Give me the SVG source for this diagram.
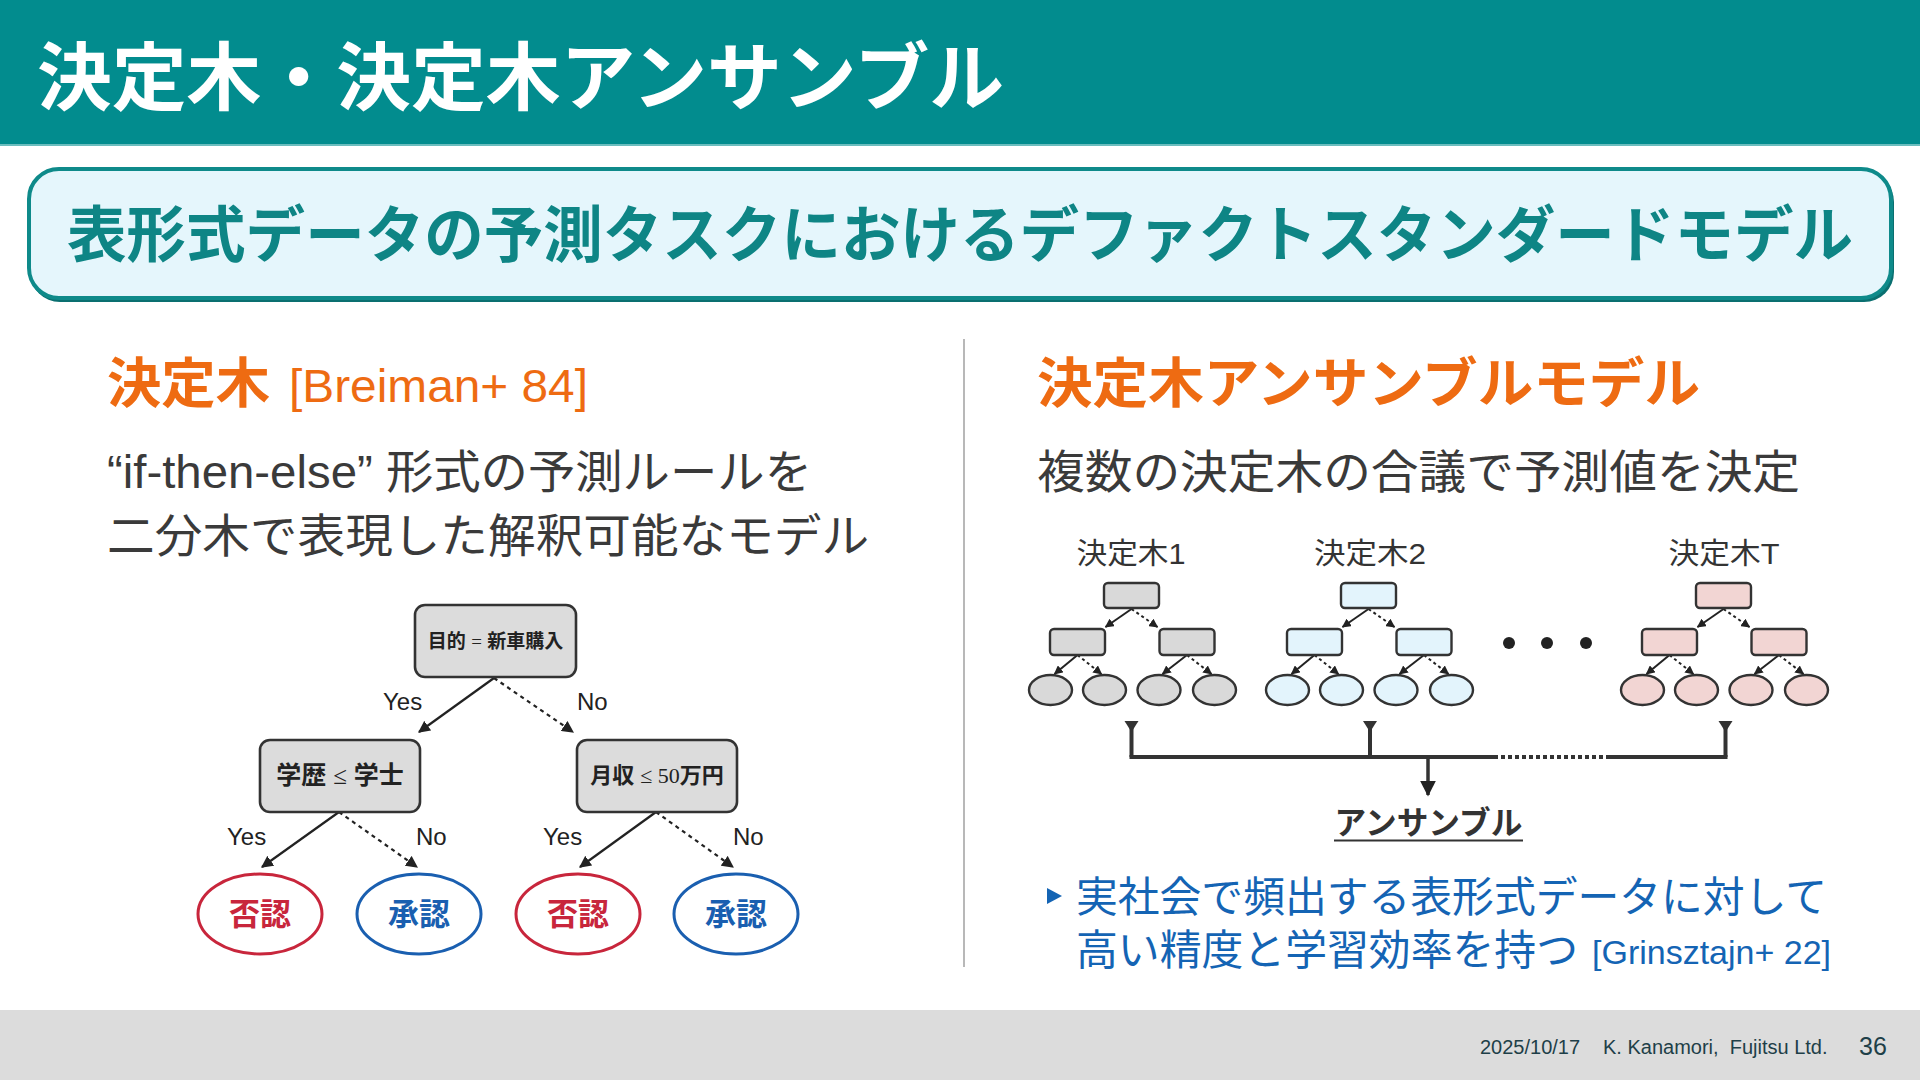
<svg xmlns="http://www.w3.org/2000/svg" width="1920" height="1080" viewBox="0 0 1920 1080">
<style>
.jp{font-family:'Liberation Sans','Noto Sans CJK JP',sans-serif}
.b{font-weight:bold}
.sf{font-family:'Liberation Serif',serif;font-weight:normal}
.box{fill:#DCDCDC;stroke:#333;stroke-width:2.6}
.ln{stroke:#222;stroke-width:2.2;fill:none}
.dt{stroke-dasharray:4 4}
.mb{stroke:#333;stroke-width:2.4}
.ml{stroke:#222;stroke-width:2;fill:none}
.g1{fill:#D9D9D9}
.g2{fill:#E3F4FC}
.g3{fill:#F2D5D3}
.lab{font-size:24px;fill:#222}
</style>
<defs>
<marker id="ah" viewBox="0 0 10 10" refX="9" refY="5" markerWidth="12" markerHeight="12" markerUnits="userSpaceOnUse" orient="auto"><path d="M0,0L10,5L0,10z" fill="#222"/></marker>
<marker id="ahs" viewBox="0 0 10 10" refX="9" refY="5" markerWidth="9" markerHeight="9" markerUnits="userSpaceOnUse" orient="auto"><path d="M0,0L10,5L0,10z" fill="#222"/></marker>
<marker id="ahb" viewBox="0 0 10 10" refX="9" refY="5" markerWidth="16" markerHeight="16" markerUnits="userSpaceOnUse" orient="auto"><path d="M0,0L10,5L0,10z" fill="#222"/></marker>
</defs>
<rect width="1920" height="1080" fill="#FFFFFF"/>
<!-- header -->
<rect x="0" y="0" width="1920" height="146" fill="#028C8E"/>
<rect x="0" y="144" width="1920" height="2" fill="#6BBDBE"/>
<text x="37" y="104" class="jp b" font-size="74" fill="#FFFFFF" textLength="967" lengthAdjust="spacingAndGlyphs">決定木・決定木アンサンブル</text>
<!-- subtitle box -->
<g id="subtitle">
<rect x="30" y="172" width="1864" height="130" rx="30" fill="#0A6F70"/>
<rect x="29" y="169" width="1862" height="129" rx="30" fill="#E5F6FC" stroke="#0E8A8A" stroke-width="4"/>
<text x="960" y="257" text-anchor="middle" class="jp b" font-size="61" fill="#0E8585" textLength="1786" lengthAdjust="spacingAndGlyphs">表形式データの予測タスクにおけるデファクトスタンダードモデル</text>
</g>
<line x1="964" y1="339" x2="964" y2="967" stroke="#A0A0A0" stroke-width="1.5"/>
<!-- left column -->
<text x="107" y="403" class="jp b" font-size="54" fill="#EE6B12" textLength="163" lengthAdjust="spacingAndGlyphs">決定木</text>
<text x="289" y="402" class="jp" font-size="46" fill="#EE6B12" textLength="299" lengthAdjust="spacingAndGlyphs">[Breiman+ 84]</text>
<text x="107" y="488" class="jp" font-size="46" fill="#3A3A3A" textLength="705" lengthAdjust="spacingAndGlyphs">“if-then-else” 形式の予測ルールを</text>
<text x="107" y="552" class="jp" font-size="46" fill="#3A3A3A" textLength="762" lengthAdjust="spacingAndGlyphs">二分木で表現した解釈可能なモデル</text>
<!-- left tree connectors -->
<g id="tree-connectors">
<line class="ln" x1="494" y1="678" x2="419" y2="732" marker-end="url(#ah)"/>
<line class="ln dt" x1="494" y1="678" x2="573" y2="732" marker-end="url(#ah)"/>
<line class="ln" x1="339" y1="812" x2="262" y2="867" marker-end="url(#ah)"/>
<line class="ln dt" x1="339" y1="812" x2="417" y2="867" marker-end="url(#ah)"/>
<line class="ln" x1="656" y1="812" x2="580" y2="867" marker-end="url(#ah)"/>
<line class="ln dt" x1="656" y1="812" x2="733" y2="867" marker-end="url(#ah)"/>
<text x="383" y="710" class="jp lab">Yes</text>
<text x="577" y="710" class="jp lab">No</text>
<text x="227" y="845" class="jp lab">Yes</text>
<text x="416" y="845" class="jp lab">No</text>
<text x="543" y="845" class="jp lab">Yes</text>
<text x="733" y="845" class="jp lab">No</text>
</g>
<g id="root">
<rect class="box" x="415" y="605" width="161" height="72" rx="10"/>
<text x="495.5" y="648" text-anchor="middle" class="jp b" font-size="19" fill="#222">目的 <tspan class="sf">=</tspan> 新車購入</text>
</g>
<g id="edu">
<rect class="box" x="260" y="740" width="160" height="72" rx="10"/>
<text x="340" y="784" text-anchor="middle" class="jp b" font-size="25" fill="#222">学歴 <tspan class="sf">≤</tspan> 学士</text>
</g>
<g id="income">
<rect class="box" x="577" y="740" width="160" height="72" rx="10"/>
<text x="657" y="783" text-anchor="middle" class="jp b" font-size="22" fill="#222">月収 <tspan class="sf">≤ 50</tspan>万円</text>
</g>
<g id="leaf1">
<ellipse cx="260" cy="914" rx="62" ry="40" fill="#FFFFFF" stroke="#C8263C" stroke-width="3"/>
<text x="260" y="925" text-anchor="middle" class="jp b" font-size="31" fill="#C8263C">否認</text>
</g>
<g id="leaf2">
<ellipse cx="419" cy="914" rx="62" ry="40" fill="#FFFFFF" stroke="#1A5FB0" stroke-width="3"/>
<text x="419" y="925" text-anchor="middle" class="jp b" font-size="31" fill="#1A5FB0">承認</text>
</g>
<g id="leaf3">
<ellipse cx="578" cy="914" rx="62" ry="40" fill="#FFFFFF" stroke="#C8263C" stroke-width="3"/>
<text x="578" y="925" text-anchor="middle" class="jp b" font-size="31" fill="#C8263C">否認</text>
</g>
<g id="leaf4">
<ellipse cx="736" cy="914" rx="62" ry="40" fill="#FFFFFF" stroke="#1A5FB0" stroke-width="3"/>
<text x="736" y="925" text-anchor="middle" class="jp b" font-size="31" fill="#1A5FB0">承認</text>
</g>
<!-- right column -->
<text x="1037" y="403" class="jp b" font-size="54" fill="#EE6B12" textLength="663" lengthAdjust="spacingAndGlyphs">決定木アンサンブルモデル</text>
<text x="1037" y="488" class="jp" font-size="46" fill="#3A3A3A" textLength="763" lengthAdjust="spacingAndGlyphs">複数の決定木の合議で予測値を決定</text>
<text x="1131" y="564" text-anchor="middle" class="jp" font-size="29" fill="#333" textLength="109" lengthAdjust="spacingAndGlyphs">決定木1</text>
<text x="1370" y="564" text-anchor="middle" class="jp" font-size="29" fill="#333" textLength="112" lengthAdjust="spacingAndGlyphs">決定木2</text>
<text x="1724" y="564" text-anchor="middle" class="jp" font-size="29" fill="#333" textLength="111" lengthAdjust="spacingAndGlyphs">決定木T</text>
<g id="tree1" transform="translate(1131.5,0)">
<line class="ml" x1="0" y1="609" x2="-26" y2="627" marker-end="url(#ahs)"/>
<line class="ml" x1="0" y1="609" x2="26" y2="627" marker-end="url(#ahs)" stroke-dasharray="3 3"/>
<line class="ml" x1="-54" y1="655" x2="-77" y2="674" marker-end="url(#ahs)"/>
<line class="ml" x1="-54" y1="655" x2="-30" y2="674" marker-end="url(#ahs)" stroke-dasharray="3 3"/>
<line class="ml" x1="55.5" y1="655" x2="31" y2="674" marker-end="url(#ahs)"/>
<line class="ml" x1="55.5" y1="655" x2="80" y2="674" marker-end="url(#ahs)" stroke-dasharray="3 3"/>
<rect class="mb g1" x="-27.5" y="583" width="55" height="25" rx="4"/>
<rect class="mb g1" x="-81.5" y="629" width="55" height="26" rx="4"/>
<rect class="mb g1" x="28" y="629" width="55" height="26" rx="4"/>
<ellipse class="mb g1" cx="-81" cy="690" rx="21.5" ry="15"/>
<ellipse class="mb g1" cx="-27" cy="690" rx="21.5" ry="15"/>
<ellipse class="mb g1" cx="27.5" cy="690" rx="21.5" ry="15"/>
<ellipse class="mb g1" cx="83" cy="690" rx="21.5" ry="15"/>
</g>
<g id="tree2" transform="translate(1368.5,0)">
<line class="ml" x1="0" y1="609" x2="-26" y2="627" marker-end="url(#ahs)"/>
<line class="ml" x1="0" y1="609" x2="26" y2="627" marker-end="url(#ahs)" stroke-dasharray="3 3"/>
<line class="ml" x1="-54" y1="655" x2="-77" y2="674" marker-end="url(#ahs)"/>
<line class="ml" x1="-54" y1="655" x2="-30" y2="674" marker-end="url(#ahs)" stroke-dasharray="3 3"/>
<line class="ml" x1="55.5" y1="655" x2="31" y2="674" marker-end="url(#ahs)"/>
<line class="ml" x1="55.5" y1="655" x2="80" y2="674" marker-end="url(#ahs)" stroke-dasharray="3 3"/>
<rect class="mb g2" x="-27.5" y="583" width="55" height="25" rx="4"/>
<rect class="mb g2" x="-81.5" y="629" width="55" height="26" rx="4"/>
<rect class="mb g2" x="28" y="629" width="55" height="26" rx="4"/>
<ellipse class="mb g2" cx="-81" cy="690" rx="21.5" ry="15"/>
<ellipse class="mb g2" cx="-27" cy="690" rx="21.5" ry="15"/>
<ellipse class="mb g2" cx="27.5" cy="690" rx="21.5" ry="15"/>
<ellipse class="mb g2" cx="83" cy="690" rx="21.5" ry="15"/>
</g>
<g id="treeT" transform="translate(1723.5,0)">
<line class="ml" x1="0" y1="609" x2="-26" y2="627" marker-end="url(#ahs)"/>
<line class="ml" x1="0" y1="609" x2="26" y2="627" marker-end="url(#ahs)" stroke-dasharray="3 3"/>
<line class="ml" x1="-54" y1="655" x2="-77" y2="674" marker-end="url(#ahs)"/>
<line class="ml" x1="-54" y1="655" x2="-30" y2="674" marker-end="url(#ahs)" stroke-dasharray="3 3"/>
<line class="ml" x1="55.5" y1="655" x2="31" y2="674" marker-end="url(#ahs)"/>
<line class="ml" x1="55.5" y1="655" x2="80" y2="674" marker-end="url(#ahs)" stroke-dasharray="3 3"/>
<rect class="mb g3" x="-27.5" y="583" width="55" height="25" rx="4"/>
<rect class="mb g3" x="-81.5" y="629" width="55" height="26" rx="4"/>
<rect class="mb g3" x="28" y="629" width="55" height="26" rx="4"/>
<ellipse class="mb g3" cx="-81" cy="690" rx="21.5" ry="15"/>
<ellipse class="mb g3" cx="-27" cy="690" rx="21.5" ry="15"/>
<ellipse class="mb g3" cx="27.5" cy="690" rx="21.5" ry="15"/>
<ellipse class="mb g3" cx="83" cy="690" rx="21.5" ry="15"/>
</g>
<g id="dots" fill="#222">
<circle cx="1509" cy="643" r="6"/>
<circle cx="1547" cy="643" r="6"/>
<circle cx="1586" cy="643" r="6"/>
</g>
<g id="ensemble-connectors" stroke="#333" stroke-width="4" fill="none">
<line x1="1131.5" y1="724" x2="1131.5" y2="757"/>
<line x1="1370" y1="724" x2="1370" y2="757"/>
<line x1="1725.5" y1="724" x2="1725.5" y2="757"/>
<line x1="1129.5" y1="757" x2="1494" y2="757"/>
<line x1="1494" y1="757" x2="1608" y2="757" stroke-dasharray="4 3"/>
<line x1="1608" y1="757" x2="1727.5" y2="757"/>
<line x1="1428" y1="757" x2="1428" y2="795" stroke-width="3.5" marker-end="url(#ahb)"/>
<g fill="#333" stroke="none">
<polygon points="1124.5,721 1138.5,721 1131.5,732"/>
<polygon points="1363,721 1377,721 1370,732"/>
<polygon points="1718.5,721 1732.5,721 1725.5,732"/>
</g>
</g>
<text x="1428.5" y="834" text-anchor="middle" class="jp b" font-size="32" fill="#333" textLength="188" lengthAdjust="spacingAndGlyphs">アンサンブル</text>
<line x1="1334" y1="840.5" x2="1523" y2="840.5" stroke="#333" stroke-width="2"/>
<polygon points="1047,888 1062,896 1047,904" fill="#1464B4"/>
<text x="1076" y="912" class="jp" font-size="42" fill="#1464B4" textLength="751" lengthAdjust="spacingAndGlyphs">実社会で頻出する表形式データに対して</text>
<text x="1076" y="965" class="jp" font-size="42" fill="#1464B4" textLength="502" lengthAdjust="spacingAndGlyphs">高い精度と学習効率を持つ</text>
<text x="1592" y="964" class="jp" font-size="34" fill="#1464B4" textLength="239" lengthAdjust="spacingAndGlyphs">[Grinsztajn+ 22]</text>
<!-- footer -->
<rect x="0" y="1010" width="1920" height="70" fill="#DCDCDC"/>
<text x="1480" y="1054" class="jp" font-size="20" fill="#1E3F48">2025/10/17</text>
<text x="1603" y="1054" class="jp" font-size="20" fill="#1E3F48" xml:space="preserve">K. Kanamori,  Fujitsu Ltd.</text>
<text x="1859" y="1055" class="jp" font-size="25" fill="#1E3F48">36</text>
</svg>
